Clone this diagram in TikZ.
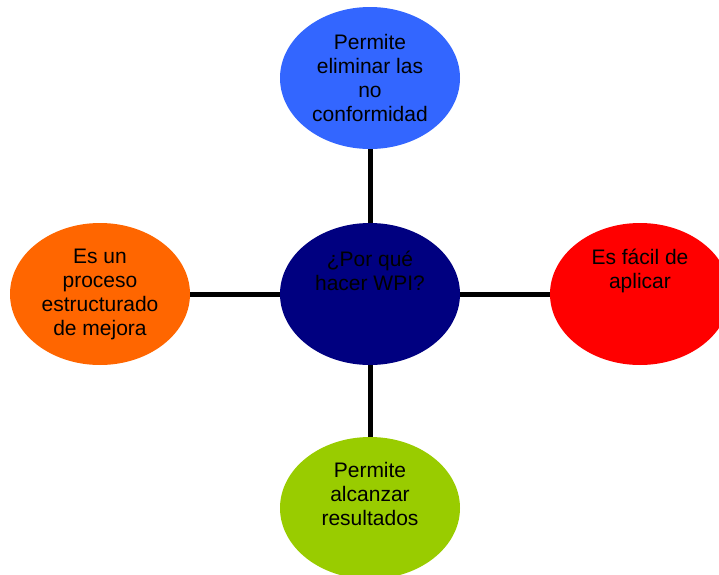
\documentclass[tikz,border=0pt]{standalone}
\usepackage{fontspec}
\setmainfont{Liberation Sans}
\usetikzlibrary{shapes.geometric}
\definecolor{wpiblue}{RGB}{51,102,255}
\definecolor{wpinavy}{RGB}{0,0,128}
\definecolor{wpired}{RGB}{255,0,0}
\definecolor{wpiorange}{RGB}{255,102,0}
\definecolor{wpigreen}{RGB}{153,204,0}
\tikzset{
  bubble/.style={ellipse, minimum width=135pt, minimum height=106.5pt, inner sep=0pt,
    font=\fontsize{15.75}{18}\selectfont, align=center},
  bubbletext/.style={font=\fontsize{15.75}{18}\selectfont, align=center},
  link/.style={line width=3.75pt, black},
}
\begin{document}
\begin{tikzpicture}[x=0.75pt,y=-0.75pt]
    \useasboundingbox (0,0) rectangle (719,575);
    % outer bubbles
    \node[bubble,fill=wpiblue] (permite) at (370,78) {Permite\\eliminar las\\no\\conformidad};
    \node[bubble,fill=wpiorange] (proceso) at (100,294) {Es un\\proceso\\estructurado\\de mejora};
    \node[bubble,fill=wpired,label={[bubbletext,yshift=17pt]center:Es fácil de\\aplicar}] (facil) at (640,294) {};
    \node[bubble,fill=wpigreen,label={[bubbletext,yshift=10.5pt]center:Permite\\alcanzar\\resultados}] (alcanzar) at (370,508) {};
    % centre
    \node[bubble,fill=wpinavy,label={[bubbletext,yshift=17pt]center:¿Por qué\\hacer WPI?}] (porque) at (370,294) {};
    \draw[link] (permite.south) -- (porque.north);
    \draw[link] (proceso.east) -- (porque.west);
    \draw[link] (porque.east) -- (facil.west);
    \draw[link] (porque.south) -- (alcanzar.north);
\end{tikzpicture}
\end{document}
